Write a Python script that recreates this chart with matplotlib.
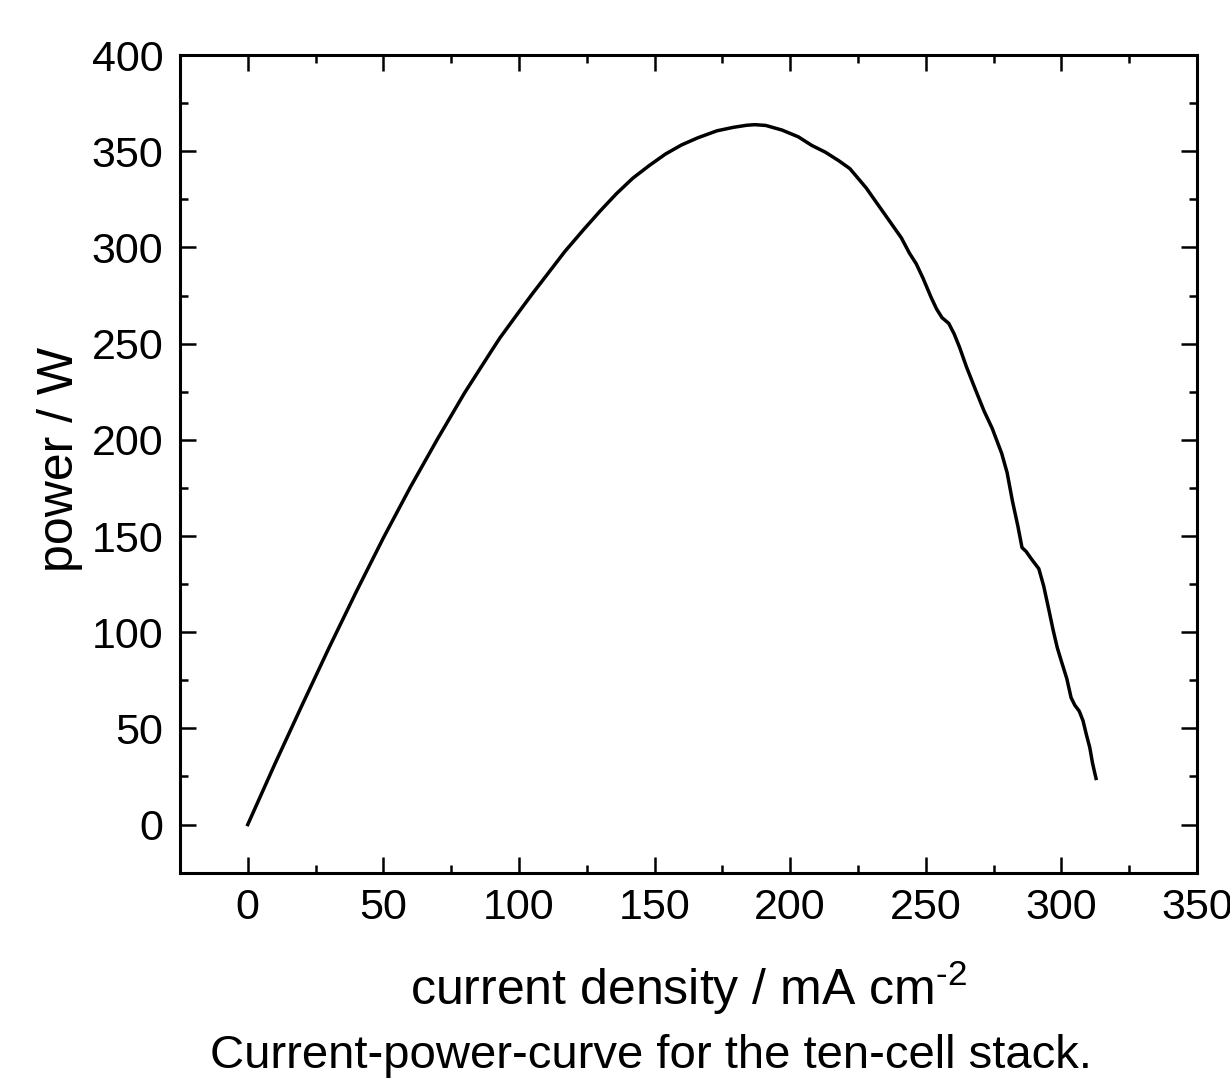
import matplotlib
matplotlib.use("Agg")
import matplotlib.pyplot as plt
from matplotlib.ticker import MultipleLocator

# current density (mA cm^-2) and stack power (W)
current_density = [0, 10, 20, 30, 40, 50, 60, 70, 80, 90, 93, 100, 105, 111, 117,
                   124, 130, 136, 142, 148, 154, 160, 166, 173, 179, 184, 187, 191,
                   197, 203, 208, 213, 218, 222, 225, 228, 231, 234, 238, 241, 244,
                   246.5, 249, 252, 254, 256, 258.5, 260.5, 262.5, 265, 268.5,
                   271.5, 274.5, 278, 280, 282, 284, 285.5, 287, 289, 291.7, 293.5,
                   295.5, 297, 298.5, 300, 302, 303.6, 305, 306.6, 308, 309.2,
                   310.5, 311.5, 312.3, 312.8]
power = [0, 31.5, 62, 92, 121, 149, 175.5, 200.5, 224.5, 246.5, 253, 266.5, 276,
         287, 298, 309.5, 319, 328, 336, 342.5, 348.5, 353.3, 357, 360.6, 362.4,
         363.5, 363.8, 363.4, 361, 357.5, 353, 349.5, 345, 341, 336, 331, 325,
         319, 311, 305, 297, 291.5, 284, 274, 268, 263.5, 260.5, 255, 248, 238,
         225.5, 215, 206, 193, 183, 168, 155, 144, 142, 138, 133, 124, 111, 101,
         92, 85, 76, 66, 62, 59, 54, 47, 40, 32, 27, 24]

x_label = "current density / mA cm$^{\\text{-}2}$"
y_label = "power / W"
caption = "Current-power-curve for the ten-cell stack."

plt.rcParams['font.family'] = ['Liberation Sans', 'DejaVu Sans']
plt.rcParams['mathtext.fontset'] = 'custom'
plt.rcParams['mathtext.rm'] = 'Liberation Sans'
plt.rcParams['mathtext.it'] = 'Liberation Sans:italic'

fig = plt.figure(figsize=(12.3, 10.79), dpi=100)
ax = fig.add_axes([0.1463, 0.1912, 0.8268, 0.7578])

ax.plot(current_density, power, color='black', lw=2.5)

ax.set_xlim(-25, 350)
ax.set_ylim(-25, 400)
ax.xaxis.set_major_locator(MultipleLocator(50))
ax.xaxis.set_minor_locator(MultipleLocator(25))
ax.yaxis.set_major_locator(MultipleLocator(50))
ax.yaxis.set_minor_locator(MultipleLocator(25))

ax.tick_params(which='both', direction='in', top=True, right=True,
               width=1.8, labelsize=31, color='black')
ax.tick_params(which='major', length=11.5)
ax.tick_params(which='minor', length=5.8)
ax.tick_params(axis='x', pad=11)
ax.tick_params(axis='y', pad=12)
for sp in ax.spines.values():
    sp.set_linewidth(2.2)

ax.set_xlabel(x_label, fontsize=36)
ax.xaxis.set_label_coords(0.5, -0.105)
ax.set_ylabel(y_label, fontsize=36)
ax.yaxis.set_label_coords(-0.095, 0.505)

fig.text(651 / 1230, 0.0102, caption, fontsize=34, ha='center', va='baseline')

fig.savefig("out.png", dpi=100)
